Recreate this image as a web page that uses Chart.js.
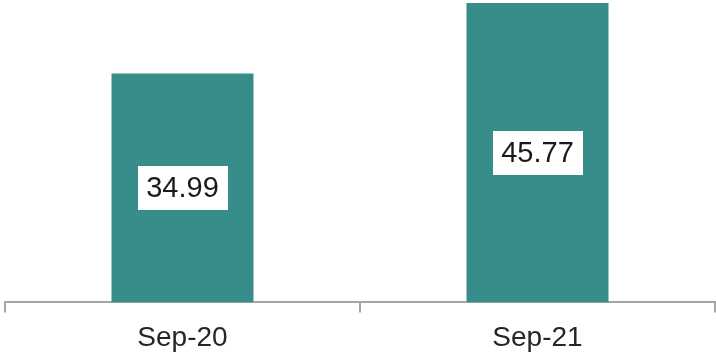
<!DOCTYPE html>
<html>
<head>
<meta charset="utf-8">
<script src="https://cdn.jsdelivr.net/npm/chart.js@4/dist/chart.umd.min.js"></script>
<style>
  html, body { margin: 0; padding: 0; background: #ffffff; }
  #wrap { width: 716px; height: 357px; }
</style>
</head>
<body>
<div id="wrap"><canvas id="c" width="716" height="357"></canvas></div>
<script>
const categories = ["Sep-20", "Sep-21"];
const values = [34.99, 45.77];

const valueBoxes = {
  id: 'valueBoxes',
  afterDatasetsDraw(chart) {
    const ctx = chart.ctx;
    const meta = chart.getDatasetMeta(0);
    ctx.save();
    meta.data.forEach((bar, i) => {
      const cx = bar.x;
      const cy = (bar.y + bar.base) / 2;
      const w = 90, h = 44;
      ctx.fillStyle = '#ffffff';
      ctx.fillRect(Math.round(cx - w / 2), Math.round(cy - h / 2), w, h);
      ctx.fillStyle = '#1a1a1a';
      ctx.font = '29px "Liberation Sans", Arial, sans-serif';
      ctx.textAlign = 'center';
      ctx.textBaseline = 'middle';
      ctx.fillText(values[i].toFixed(2), cx, cy + 1);
    });
    ctx.restore();
  }
};

new Chart(document.getElementById('c'), {
  type: 'bar',
  data: {
    labels: categories,
    datasets: [{
      data: values,
      backgroundColor: '#368D8A',
      borderWidth: 0,
      barPercentage: 0.4,
      categoryPercentage: 1.0
    }]
  },
  options: {
    responsive: false,
    animation: false,
    devicePixelRatio: 1,
    layout: { padding: { left: 5, right: 1, top: 0, bottom: 2 } },
    plugins: { legend: { display: false }, tooltip: { enabled: false } },
    scales: {
      x: {
        afterFit(scale) { scale.height = scale.height - 9; },
        grid: {
          display: true,
          drawOnChartArea: false,
          offset: true,
          tickLength: 10,
          color: '#A6A6A6',
          lineWidth: 2
        },
        border: { display: true, color: '#A6A6A6', width: 2 },
        ticks: {
          color: '#262626',
          padding: 9,
          font: { family: '"Liberation Sans", Arial, sans-serif', size: 28 }
        }
      },
      y: {
        display: false,
        min: 0,
        max: 46.23
      }
    }
  },
  plugins: [valueBoxes]
});
</script>
</body>
</html>
